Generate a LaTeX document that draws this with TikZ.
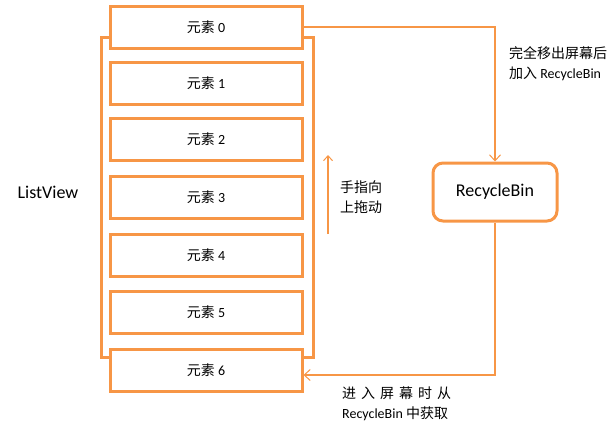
\documentclass[tikz,border=0pt]{standalone}
\usepackage{fontspec}
\setmainfont{Carlito}
\newfontfamily\cjk{Noto Sans CJK SC}
\usetikzlibrary{arrows.meta}
\definecolor{og}{HTML}{F79646}
\begin{document}
\begin{tikzpicture}[x=1pt,y=-1pt,
  elem/.style={draw=og,line width=3pt,fill=white,minimum width=192pt,minimum height=42pt,inner sep=0pt,font=\fontsize{14pt}{16pt}\selectfont},
  thin/.style={draw=og,line width=1.2pt},
  tip/.style={-{Straight Barb[length=6pt,width=11pt,line width=1pt]}},
  lbl/.style={font=\fontsize{14pt}{20pt}\selectfont,align=left,inner sep=0pt,anchor=north west}]
\useasboundingbox (0,0) rectangle (611,431);
\node[draw=og,line width=3pt,minimum width=212pt,minimum height=320pt,inner sep=0pt] (lv) at (207,197) {};
\foreach \i/\t in {0/6,1/62,2/118,3/176,4/234,5/291,6/349}{
  \node[elem] (e\i) at (206,\t+21) {{\cjk 元素} \i};
}
\node[font=\fontsize{18pt}{20pt}\selectfont] (lvl) at (48,192) {ListView};
\node[draw=og,line width=3pt,rounded corners=10pt,minimum width=124pt,minimum height=58pt,inner sep=0pt,font=\fontsize{18pt}{20pt}\selectfont] (rb) at (495,192) {RecycleBin};
\coordinate (c1) at (495,27);
\draw[thin,tip] (e0.east |- c1) -- (c1) -- (rb.north);
\coordinate (c2) at (495,375);
\draw[thin,tip] (rb.south) -- (c2) -- (e6.east |- c2);
\coordinate (ua) at (328,234);
\coordinate (ub) at (328,155);
\draw[thin,-{Straight Barb[length=5pt,width=9pt,line width=1pt]}] (ua) -- (ub);
\node[lbl] (t1) at (509,46) {{\cjk 完全移出屏幕后}\\{\cjk 加入} RecycleBin};
\node[lbl] (t2) at (340,181) {{\cjk 手指向}\\{\cjk 上拖动}};
\node[lbl] (t3) at (342,387) {{\cjk 进\hspace{5pt}入\hspace{5pt}屏\hspace{5pt}幕\hspace{5pt}时\hspace{5pt}从}\\RecycleBin {\cjk 中获取}};
\end{tikzpicture}
\end{document}
